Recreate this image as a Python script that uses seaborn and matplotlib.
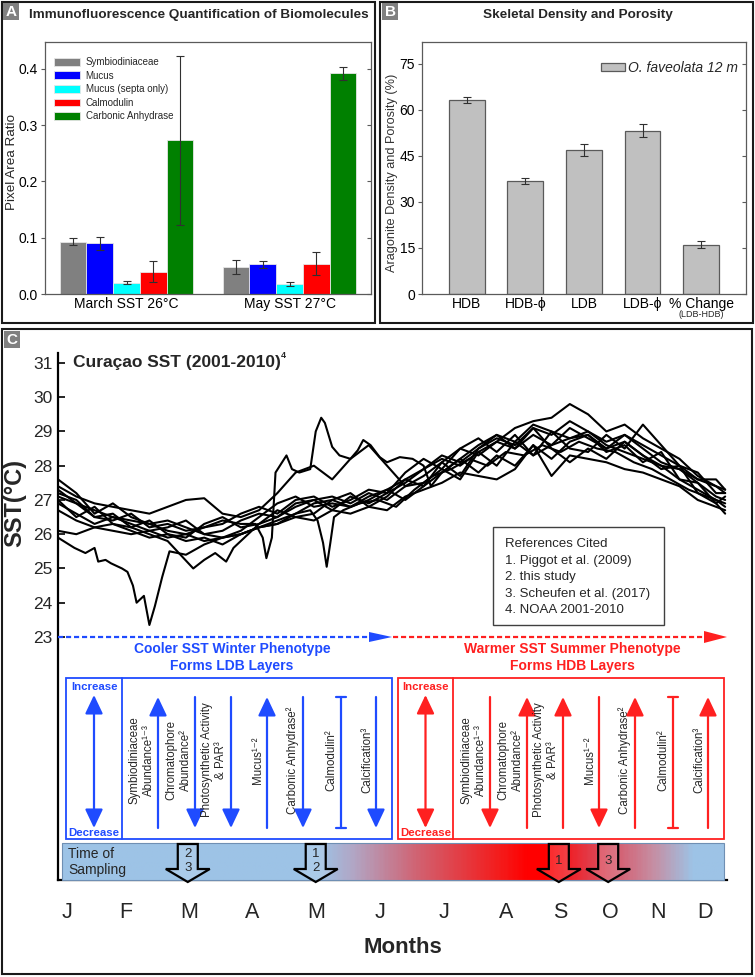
import numpy as np
import pandas as pd
import matplotlib
matplotlib.use('Agg')
import matplotlib.pyplot as plt
import seaborn as sns
from matplotlib.patches import Rectangle, Polygon, Patch
from matplotlib.colors import LinearSegmentedColormap

W, H = 755, 977

# ---------------- panel A data ----------------
groups = ['March SST 26°C', 'May SST 27°C']
molecules = ['Symbiodiniaceae', 'Mucus', 'Mucus (septa only)', 'Calmodulin', 'Carbonic Anhydrase']
mol_colors = ['#808080', '#0000ff', '#00ffff', '#ff0000', '#008000']
march_vals = [0.093, 0.090, 0.020, 0.040, 0.273]
march_err = [0.006, 0.011, 0.003, 0.019, 0.150]
may_vals = [0.048, 0.053, 0.018, 0.054, 0.392]
may_err = [0.012, 0.006, 0.003, 0.020, 0.012]

# ---------------- panel B data ----------------
skel_labels = ['HDB', 'HDB-ϕ', 'LDB', 'LDB-ϕ', '% Change']
skel_vals = [63.0, 36.8, 46.8, 53.1, 16.1]
skel_err = [1.0, 1.0, 2.0, 2.1, 1.2]

# ---------------- panel C data (day of year, SST) ----------------
days_std = [0, 10, 20, 30, 40, 50, 60, 70, 80, 90, 100, 110, 120, 130, 140, 150, 160, 170, 180,
            190, 200, 210, 220, 230, 240, 250, 260, 270, 280, 290, 300, 310, 320, 330, 340, 350, 360, 365]

days_1 = [0, 9, 15, 20, 22, 26, 29, 35, 38, 41, 43, 47, 50, 53, 57, 61, 70, 80, 90, 100, 110, 120, 130,
          140, 150, 160, 170, 180, 190, 200, 210, 220, 230, 240, 250, 260, 270, 280, 290, 300, 310, 320,
          330, 340, 350, 360, 365]
sst_1 = [25.9, 25.6, 25.45, 25.6, 25.2, 25.25, 25.15, 25.0, 24.9, 24.5, 24.0, 24.2, 23.35, 23.9, 24.75,
         25.5, 25.4, 25.7, 25.9, 26.0, 26.2, 26.4, 26.6, 26.9, 27.0, 26.8, 27.1, 27.3, 27.6, 27.9, 28.2,
         28.0, 28.4, 28.7, 28.5, 28.9, 28.6, 28.8, 29.0, 28.6, 28.4, 28.2, 28.0, 27.6, 27.3, 27.0, 26.8]

days_2 = [0, 10, 20, 30, 40, 50, 60, 67, 74, 80, 86, 92, 96, 104, 110, 120, 130, 140, 150, 160, 170, 180,
          190, 200, 210, 220, 230, 240, 250, 260, 270, 280, 290, 300, 310, 320, 330, 340, 350, 360, 365]
sst_2 = [27.3, 26.9, 26.5, 26.6, 26.2, 26.0, 25.8, 25.4, 25.0, 25.25, 25.45, 25.2, 25.6, 26.0, 26.3, 26.5,
         26.8, 27.0, 26.7, 27.1, 26.9, 27.2, 27.5, 27.9, 28.3, 28.1, 28.5, 28.8, 28.6, 29.1, 28.9, 29.3,
         29.0, 28.7, 28.9, 28.6, 28.3, 28.0, 27.6, 27.4, 27.2]

days_3 = [0, 10, 20, 30, 40, 50, 60, 70, 80, 90, 100, 108, 112, 114, 117, 119, 125, 128, 132, 138, 141,
          144, 146, 150, 154, 160, 164, 167, 171, 176, 180, 187, 194, 200, 204, 210, 220, 230, 240, 250,
          260, 270, 280, 290, 300, 310, 320, 330, 340, 350, 360, 365]
sst_3 = [27.1, 26.9, 26.7, 26.5, 26.4, 26.3, 26.1, 26.0, 26.2, 26.4, 26.3, 26.3, 25.9, 25.3, 25.9, 27.8,
         28.3, 27.9, 27.8, 27.9, 29.0, 29.4, 29.25, 28.55, 28.3, 28.2, 28.45, 28.75, 28.6, 28.25, 28.1,
         28.25, 28.2, 28.0, 27.4, 27.8, 28.2, 28.6, 28.9, 28.7, 29.2, 29.0, 28.8, 28.9, 28.5, 28.7, 28.3,
         28.0, 27.9, 27.5, 27.1, 27.0]

days_4 = [0, 10, 20, 30, 40, 50, 60, 70, 80, 90, 100, 110, 120, 130, 138, 142, 145, 147, 149, 151, 156,
          165, 175, 185, 195, 205, 215, 225, 235, 245, 255, 265, 275, 285, 295, 305, 315, 325, 335, 345,
          355, 365]
sst_4 = [26.7, 26.4, 26.2, 26.3, 26.1, 25.9, 26.0, 25.8, 25.9, 25.7, 26.0, 26.2, 26.3, 26.6, 26.7, 26.4,
         25.75, 25.05, 25.75, 26.5, 26.7, 26.9, 27.0, 26.8, 27.3, 27.7, 27.9, 28.2, 28.0, 28.4, 28.3, 28.6,
         28.4, 28.7, 28.5, 28.4, 28.1, 27.9, 27.6, 27.3, 27.1, 26.9]

sst_5 = [27.4, 27.1, 26.9, 26.8, 26.7, 26.6, 26.8, 27.0, 27.05, 26.6, 26.5, 26.7, 27.2, 27.8, 28.0, 27.6,
         28.2, 28.6, 28.0, 27.4, 27.7, 28.1, 28.5, 28.3, 28.7, 29.1, 29.3, 29.4, 29.8, 29.5, 29.0, 29.2,
         28.8, 28.5, 28.2, 27.7, 27.4, 27.3]
sst_6 = [27.6, 27.2, 26.6, 26.9, 26.5, 26.3, 26.4, 26.2, 26.0, 26.1, 26.4, 26.6, 26.5, 26.9, 27.0, 27.1,
         26.9, 27.2, 27.0, 27.4, 27.5, 27.9, 27.6, 28.4, 28.0, 28.7, 28.3, 29.0, 28.5, 28.4, 28.9, 28.5,
         29.2, 28.6, 28.0, 27.8, 27.2, 27.2]
sst_7 = [27.0, 26.5, 26.8, 26.3, 26.2, 26.4, 26.0, 25.9, 26.3, 26.5, 26.2, 26.3, 26.7, 26.5, 26.6, 27.0,
         27.2, 26.8, 27.1, 27.6, 27.4, 28.1, 27.7, 28.5, 28.9, 28.5, 29.1, 28.5, 28.1, 28.5, 28.2, 28.7,
         28.3, 27.9, 28.0, 27.2, 26.9, 26.6]
sst_8 = [26.9, 26.6, 26.3, 26.5, 26.3, 26.1, 26.2, 26.4, 26.0, 25.9, 26.1, 26.5, 26.9, 27.1, 26.8, 26.9,
         26.8, 27.0, 27.3, 27.0, 27.4, 27.8, 28.2, 27.8, 28.3, 28.0, 28.6, 28.2, 28.7, 28.9, 28.4, 28.6,
         28.1, 28.4, 27.6, 27.5, 26.9, 27.1]
sst_9 = [27.2, 27.0, 26.5, 26.4, 26.6, 26.2, 26.3, 26.1, 26.2, 26.3, 26.6, 26.8, 26.6, 27.0, 27.1, 26.8,
         27.0, 27.3, 27.2, 27.8, 28.2, 27.9, 28.5, 28.8, 28.4, 28.9, 28.3, 28.6, 29.1, 28.8, 28.5, 28.9,
         28.5, 28.1, 27.9, 27.6, 27.6, 27.3]
sst_10 = [26.1, 26.0, 26.2, 26.1, 26.0, 26.1, 25.9, 26.0, 25.8, 25.9, 26.0, 26.2, 26.3, 26.5, 26.4, 26.7,
          26.6, 26.8, 26.7, 27.1, 27.3, 27.5, 27.8, 27.7, 27.6, 27.9, 28.6, 27.7, 28.3, 28.2, 28.1, 27.9,
          27.8, 27.6, 27.4, 27.0, 26.8, 26.7]

month_labels = ['J', 'F', 'M', 'A', 'M', 'J', 'J', 'A', 'S', 'O', 'N', 'D']
month_days = [5, 37, 72, 106, 141, 176, 211, 245, 275, 302, 328, 354]
sst_ticks = [23, 24, 25, 26, 27, 28, 29, 30, 31]

effect_labels = ['Symbiodiniaceae\nAbundance¹⁻³', 'Chromatophore\nAbundance²',
                 'Photosynthetic Activity\n& PAR³', 'Mucus¹⁻²', 'Carbonic Anhydrase²',
                 'Calmodulin²', 'Calcification³']
winter_dirs = ['up', 'down', 'down', 'up', 'down', 'none', 'down']
summer_dirs = ['down', 'up', 'up', 'down', 'up', 'none', 'up']

sampling_days = [71, 141, 274, 301]
sampling_text = ['2\n3', '1\n2', '1', '3']

references = ['References Cited', '1. Piggot et al. (2009)', '2. this study',
              '3. Scheufen et al. (2017)', '4. NOAA 2001-2010']

BLUE = '#1f4bff'
RED = '#ff2020'

sns.set_theme(style='white')
plt.rcParams['font.family'] = ['Liberation Sans', 'DejaVu Sans']

fig = plt.figure(figsize=(W / 100, H / 100), dpi=100)
fig.patch.set_facecolor('white')


def px_rect(l, t, r, b):
    return [l / W, 1 - b / H, (r - l) / W, (b - t) / H]


def day_px(d):
    return 58 + d * 669 / 366


# ---------------- panel A ----------------
ax_a = fig.add_axes(px_rect(45, 42, 371, 294))
df_a = pd.DataFrame({
    'group': [g for g in groups for m in molecules],
    'molecule': molecules * len(groups),
    'value': march_vals + may_vals,
})
sns.barplot(data=df_a, x='group', y='value', hue='molecule', hue_order=molecules,
            palette=dict(zip(molecules, mol_colors)), saturation=1, width=0.82,
            errorbar=None, edgecolor='#e6e6e6', linewidth=0.6, legend=False, ax=ax_a)
errs = [march_err, may_err]
bar_containers = list(ax_a.containers)
for i, cont in enumerate(bar_containers):
    for j, bar in enumerate(cont.patches):
        ax_a.errorbar(bar.get_x() + bar.get_width() / 2, bar.get_height(), yerr=errs[j][i],
                      fmt='none', ecolor='#303030', elinewidth=0.8, capsize=3.2, capthick=0.8)
ax_a.set_ylim(0, 0.448)
ax_a.set_xlim(-0.5, 1.5)
ax_a.set_yticks([0.0, 0.1, 0.2, 0.3, 0.4])
ax_a.set_yticklabels(['0.0', '0.1', '0.2', '0.3', '0.4'])
ax_a.set_xlabel('')
ax_a.set_ylabel('Pixel Area Ratio', fontsize=9.7)
ax_a.yaxis.set_label_coords((18 - 45) / 326, 0.524)
handles = [Patch(facecolor=c, edgecolor='#e6e6e6', linewidth=0.6) for c in mol_colors]
ax_a.legend(handles, molecules, loc='upper left', bbox_to_anchor=(0.02, 0.952), frameon=False,
            fontsize=7, handlelength=2.6, handleheight=0.85, labelspacing=0.37,
            handletextpad=0.6, borderpad=0.3, borderaxespad=0)

# ---------------- panel B ----------------
ax_b = fig.add_axes(px_rect(422, 42, 746, 294))
df_b = pd.DataFrame({'band': skel_labels, 'pct': skel_vals})
sns.barplot(data=df_b, x='band', y='pct', color='#c0c0c0', saturation=1, width=0.61,
            edgecolor='#5a5a5a', linewidth=0.9, errorbar=None, ax=ax_b)
ax_b.errorbar(range(len(skel_vals)), skel_vals, yerr=skel_err, fmt='none', ecolor='#303030',
              elinewidth=0.8, capsize=3.2, capthick=0.8)
ax_b.set_ylim(0, 82)
ax_b.set_xlim(-0.763, 4.765)
ax_b.set_yticks([0, 15, 30, 45, 60, 75])
ax_b.set_xlabel('')
ax_b.set_ylabel('Aragonite Density and Porosity (%)', fontsize=9.2, color='#333333')
ax_b.yaxis.set_label_coords((398 - 422) / 324, 0.48)
ax_b.text(4, -0.083, '(LDB-HDB)', transform=ax_b.get_xaxis_transform(), ha='center',
          va='center', fontsize=6.5)
ax_b.legend([Patch(facecolor='#c0c0c0', edgecolor='#5a5a5a', linewidth=0.9)], ['O. faveolata 12 m'],
            loc='upper right', bbox_to_anchor=(0.985, 0.935), frameon=False,
            prop={'style': 'italic', 'size': 10}, handlelength=1.75, handleheight=0.55,
            handletextpad=0.25, borderpad=0.2, borderaxespad=0)

for ax in (ax_a, ax_b):
    for sp in ax.spines.values():
        sp.set_color('#5a5a5a')
        sp.set_linewidth(0.9)
    ax.tick_params(axis='x', length=0, labelsize=10, pad=2.5, colors='black')
    ax.tick_params(axis='y', direction='out', length=3, width=0.8, color='#5a5a5a',
                   labelsize=10, pad=2, labelcolor='black', left=True)
    sec = ax.secondary_yaxis('right')
    sec.set_yticks(ax.get_yticks())
    sec.tick_params(direction='in', length=3, width=0.8, color='#5a5a5a', labelright=False)
    sec.spines['right'].set_visible(False)

# ---------------- panel C ----------------
ax_c = fig.add_axes(px_rect(58, 353, 727, 880))
series = [(days_1, sst_1), (days_2, sst_2), (days_3, sst_3), (days_4, sst_4),
          (days_std, sst_5), (days_std, sst_6), (days_std, sst_7), (days_std, sst_8),
          (days_std, sst_9), (days_std, sst_10)]
for d, t in series:
    sns.lineplot(x=d, y=t, ax=ax_c, color='black', linewidth=1.5, estimator=None,
                 sort=False, legend=False)
ax_c.set_xlim(0, 366)
ax_c.set_ylim(15.905, 31.29)
ax_c.set_yticks(sst_ticks)
ax_c.set_xticks(month_days)
ax_c.set_xticklabels(month_labels)
for s in ('top', 'right'):
    ax_c.spines[s].set_visible(False)
for s in ('left', 'bottom'):
    ax_c.spines[s].set_color('black')
    ax_c.spines[s].set_linewidth(1.6)
ax_c.tick_params(axis='y', direction='in', length=5, width=1.2, color='black',
                 labelsize=12.5, pad=4, left=True)
ax_c.tick_params(axis='x', length=0, labelsize=15.5, pad=16)
ax_c.set_xlabel('Months', fontsize=16, fontweight='bold')
ax_c.xaxis.set_label_coords((403 - 58) / 669, -0.108)
ax_c.set_ylabel('SST(°C)', fontsize=17, fontweight='bold')
ax_c.yaxis.set_label_coords((26 - 58) / 669, 0.715)

# ---------------- overlay in pixel coordinates ----------------
ov = fig.add_axes([0, 0, 1, 1], zorder=10)
ov.patch.set_alpha(0)
ov.set_xlim(0, W)
ov.set_ylim(H, 0)

# panel frames and letters
for (l, t, r, b) in [(2, 2, 375, 323), (380, 2, 753, 323), (2, 329, 752, 974)]:
    ov.add_patch(Rectangle((l, t), r - l, b - t, fill=False, ec='#1a1a1a', lw=1.5))
for letter, (lx, ly) in zip('ABC', [(3, 3), (382, 3), (4, 331)]):
    ov.add_patch(Rectangle((lx, ly), 16, 17, fc='#808080', ec='none'))
    ov.text(lx + 8, ly + 9, letter, color='white', fontsize=11, fontweight='bold',
            ha='center', va='center')

ov.text(199, 15, 'Immunofluorescence Quantification of Biomolecules', fontsize=9.7,
        fontweight='bold', ha='center', va='center')
ov.text(578, 15, 'Skeletal Density and Porosity', fontsize=9.7, fontweight='bold',
        ha='center', va='center')
title_c = ov.text(73, 362, 'Curaçao SST (2001-2010)', fontsize=12.5, fontweight='bold',
                  va='center')
fig.canvas.draw()
bb = title_c.get_window_extent(fig.canvas.get_renderer())
ov.text(bb.x1 - 0.5, 356, '4', fontsize=6.5, fontweight='bold', va='center', ha='left')

# references box
ov.add_patch(Rectangle((493, 527), 171, 98, fc='white', ec='#404040', lw=1))
for k, line in enumerate(references):
    ov.text(505, 544 + k * 16.6, line, fontsize=9.5, va='center')

# dashed phenotype arrows at SST 23
ov.plot([58, 371], [637, 637], color=BLUE, lw=1.6, ls=(0, (2.3, 1.3)))
ov.add_patch(Polygon([(369, 632), (392, 637), (369, 642)], closed=True, fc=BLUE, ec='none'))
ov.plot([393, 706], [637, 637], color=RED, lw=1.6, ls=(0, (2.3, 1.3)))
ov.add_patch(Polygon([(704, 631), (727, 637), (704, 643)], closed=True, fc=RED, ec='none'))

ov.text(232, 649, 'Cooler SST Winter Phenotype', color=BLUE, fontsize=10, fontweight='bold',
        ha='center', va='center')
ov.text(232, 666, 'Forms LDB Layers', color=BLUE, fontsize=10, fontweight='bold',
        ha='center', va='center')
ov.text(572, 649, 'Warmer SST Summer Phenotype', color=RED, fontsize=10, fontweight='bold',
        ha='center', va='center')
ov.text(572, 666, 'Forms HDB Layers', color=RED, fontsize=10, fontweight='bold',
        ha='center', va='center')

text_off = [76, 113, 148, 192, 227, 265, 301]
arrow_off = [92, 129, 165, 201, 237, 275, 310]


def v_arrow(x, y_from, y_to, color, style):
    ov.annotate('', xy=(x, y_to), xytext=(x, y_from),
                arrowprops=dict(arrowstyle=style + ',head_length=0.95,head_width=0.45',
                                color=color, lw=1.6, shrinkA=0, shrinkB=0, mutation_scale=12))


for left, div, color, dirs in [(66, 122, BLUE, winter_dirs), (398, 453, RED, summer_dirs)]:
    ov.add_patch(Rectangle((left, 678), 326, 161, fill=False, ec=color, lw=1.3))
    ov.plot([div, div], [678, 839], color=color, lw=1.3)
    cx = (left + div) / 2
    ov.text(cx, 687, 'Increase', color=color, fontsize=8.2, fontweight='bold',
            ha='center', va='center')
    ov.text(cx, 833, 'Decrease', color=color, fontsize=8.2, fontweight='bold',
            ha='center', va='center')
    v_arrow(cx, 828, 695, color, '<|-|>')
    for lab, to, ao, d in zip(effect_labels, text_off, arrow_off, dirs):
        ov.text(left + to, 760, lab, rotation=90, ha='center', va='center',
                multialignment='center', fontsize=8.3, linespacing=1.25)
        x = left + ao
        if d == 'up':
            v_arrow(x, 828, 697, color, '-|>')
        elif d == 'down':
            v_arrow(x, 697, 828, color, '-|>')
        else:
            ov.plot([x, x], [697, 828], color=color, lw=1.6)
            ov.plot([x - 5, x + 5], [697, 697], color=color, lw=1.6)
            ov.plot([x - 5, x + 5], [828, 828], color=color, lw=1.6)

# time of sampling bar
stops = [(62, '#9dc3e6'), (318, '#9dc3e6'), (352, '#b1a7c6'), (420, '#d2606f'),
         (500, '#f41c1c'), (528, '#ff0000'), (545, '#ff0000'), (600, '#dd4656'),
         (655, '#c68ea3'), (695, '#9dc3e6'), (724, '#9dc3e6')]
cmap = LinearSegmentedColormap.from_list(
    'season', [((p - 62) / (724 - 62), c) for p, c in stops])
ov.imshow(np.linspace(0, 1, 400)[None, :], extent=(62, 724, 880, 843), aspect='auto',
          cmap=cmap, zorder=1)
ov.add_patch(Rectangle((62, 843), 662, 37, fill=False, ec='#6f8fb3', lw=0.8, zorder=2))
ov.text(68, 862, 'Time of\nSampling', fontsize=10, va='center', ha='left', linespacing=1.15,
        zorder=3)
for d, txt in zip(sampling_days, sampling_text):
    cx = day_px(d)
    pts = [(cx - 10, 844), (cx + 10, 844), (cx + 10, 869), (cx + 22, 869), (cx, 882),
           (cx - 22, 869), (cx - 10, 869)]
    ov.add_patch(Polygon(pts, closed=True, fc=(1, 1, 1, 0.15), ec='black', lw=1.6, zorder=4))
    ov.text(cx, 861, txt, fontsize=9.5, ha='center', va='center', linespacing=1.15, zorder=5)

ov.set_xlim(0, W)
ov.set_ylim(H, 0)
ov.axis('off')

fig.savefig('out.png', dpi=100, facecolor='white')
